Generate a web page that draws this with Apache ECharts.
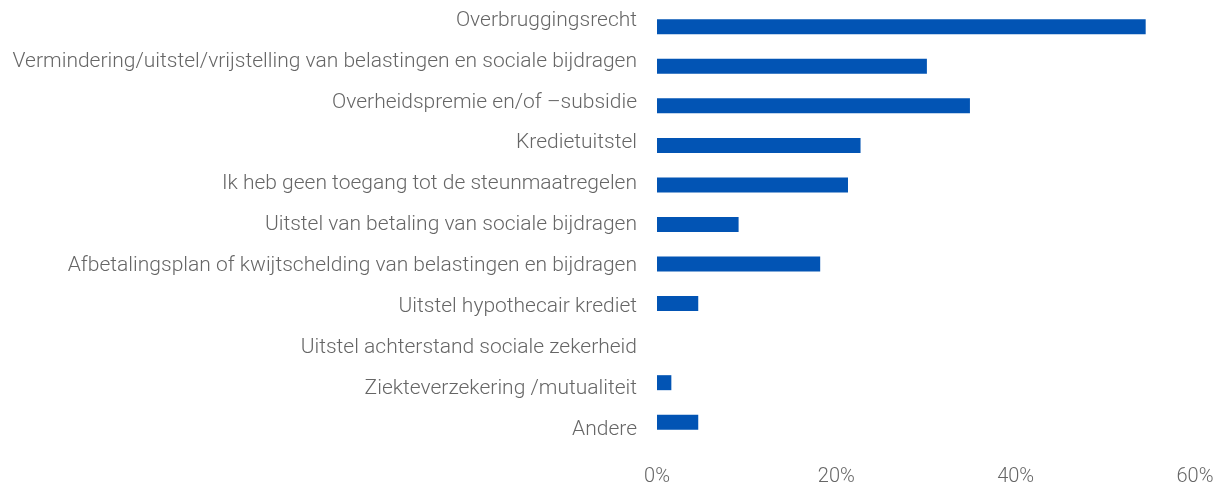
<!DOCTYPE html>
<html>
<head>
<meta charset="utf-8">
<script src="https://cdn.jsdelivr.net/npm/echarts@6/dist/echarts.min.js"></script>
<style>
    html, body { margin: 0; padding: 0; background: #fff; }
    #main { width: 1221px; height: 487px; }
</style>
</head>
<body>
<div id="main"></div>
<script>
let categories = [
    'Overbruggingsrecht',
    'Vermindering/uitstel/vrijstelling van belastingen en sociale bijdragen',
    'Overheidspremie en/of –subsidie',
    'Kredietuitstel',
    'Ik heb geen toegang tot de steunmaatregelen',
    'Uitstel van betaling van sociale bijdragen',
    'Afbetalingsplan of kwijtschelding van belastingen en bijdragen',
    'Uitstel hypothecair krediet',
    'Uitstel achterstand sociale zekerheid',
    'Ziekteverzekering /mutualiteit',
    'Andere'
]
let values = [54.5, 30.1, 34.9, 22.7, 21.3, 9.1, 18.2, 4.6, 0, 1.6, 4.6]
let xTicks = [0, 20, 40, 60]

var chartDom = document.getElementById('main')
var myChart = echarts.init(chartDom)
var option
// labels sit on a slightly wider spacing than the bars, so they get their own grid
option = {
    textStyle: { fontFamily: 'Roboto' },
    grid: [
        { left: 657, right: 26, top: 7, bottom: 43 },
        { left: 657, right: 26, top: -1, bottom: 37 },
    ],
    xAxis: [
        {
            type: 'value',
            gridIndex: 0,
            min: xTicks[0],
            max: xTicks[xTicks.length - 1],
            interval: 20,
            splitLine: { show: false },
            axisLine: { show: false },
            axisTick: { show: false },
            axisLabel: {
                fontSize: 20,
                color: '#666',
                fontWeight: 300,
                margin: 25,
                formatter: '{value}%',
            },
        },
        { type: 'value', gridIndex: 1, show: false, min: 0, max: 60 },
    ],
    yAxis: [
        {
            type: 'category',
            gridIndex: 0,
            inverse: true,
            data: categories,
            axisLine: { show: false },
            axisTick: { show: false },
            axisLabel: { show: false },
        },
        {
            type: 'category',
            gridIndex: 1,
            inverse: true,
            data: categories,
            axisLine: { show: false },
            axisTick: { show: false },
            axisLabel: {
                fontSize: 21,
                color: '#666',
                fontWeight: 300,
                margin: 20,
            },
        },
    ],
    series: [
        {
            type: 'bar',
            data: values,
            barWidth: 15,
            itemStyle: { color: '#0254b4' },
        },
    ],
}
option && myChart.setOption(option)
</script>
</body>
</html>
